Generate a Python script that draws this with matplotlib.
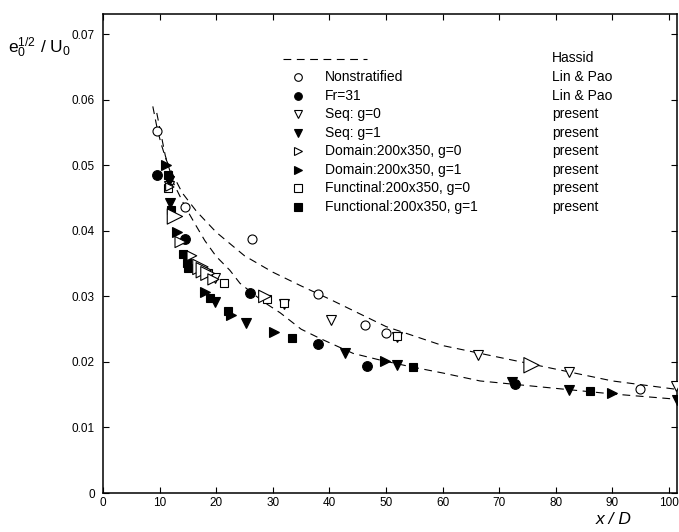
import matplotlib
matplotlib.use("Agg")
import matplotlib.pyplot as plt

plt.rcParams['font.family'] = ['Liberation Sans', 'DejaVu Sans']
plt.rcParams['mathtext.fontset'] = 'custom'
plt.rcParams['mathtext.rm'] = 'Liberation Sans'
plt.rcParams['mathtext.it'] = 'Liberation Sans:italic'
plt.rcParams['mathtext.default'] = 'regular'

# ---- data ----
hassid_upper_x = [8.8, 9.6, 10.3, 11.1, 12.1, 14, 16.5, 20, 25, 30, 35, 40, 50, 60, 70, 80, 90, 101.5]
hassid_upper_y = [0.0590, 0.0555, 0.0532, 0.0510, 0.0490, 0.0458, 0.0430, 0.0398, 0.0362, 0.0337,
                  0.0316, 0.0296, 0.0254, 0.0225, 0.0207, 0.0189, 0.0171, 0.0158]
hassid_lower_x = [9.5, 11, 12.5, 14.5, 16.5, 18, 20, 22.4, 24.2, 28.3, 31.3, 35, 38.3, 44.2, 48.9,
                  54.2, 60.1, 66.6, 78.4, 90.2, 101.5]
hassid_lower_y = [0.0580, 0.0515, 0.0472, 0.0437, 0.0407, 0.0385, 0.0361, 0.0340, 0.0320, 0.0292,
                  0.0275, 0.0250, 0.0236, 0.0213, 0.0203, 0.0193, 0.0183, 0.0171, 0.0161, 0.0151, 0.0143]

nonstrat_x = [9.6, 14.5, 26.4, 38.0, 46.3, 50.0, 94.9]
nonstrat_y = [0.0553, 0.0437, 0.0388, 0.0303, 0.0256, 0.0244, 0.0159]

fr31_x = [9.6, 14.5, 26.0, 37.9, 46.6, 72.8]
fr31_y = [0.0485, 0.0387, 0.0305, 0.0228, 0.0194, 0.0167]

seq0_x = [11.6, 19.8, 31.9, 40.3, 52.0, 66.3, 82.4, 101.2]
seq0_y = [0.0468, 0.0328, 0.0288, 0.0264, 0.0238, 0.0210, 0.0185, 0.0163]

seq1_x = [11.6, 11.8, 19.8, 25.3, 42.8, 52.0, 72.2, 82.4, 101.4]
seq1_y = [0.0476, 0.0442, 0.0291, 0.0260, 0.0213, 0.0196, 0.0170, 0.0157, 0.0142]

dom0_x = [11.8, 12.7, 13.7, 15.7, 17.2, 17.8, 18.5, 19.5, 28.6, 75.7]
dom0_y = [0.0467, 0.0422, 0.0383, 0.0362, 0.0345, 0.0340, 0.0335, 0.0326, 0.0300, 0.0195]
dom0_size = [6, 11, 8, 7, 11, 11, 10, 8, 9, 11]

dom1_x = [11.2, 13.0, 18.0, 22.7, 30.2, 49.8, 89.9]
dom1_y = [0.0500, 0.0398, 0.0306, 0.0272, 0.0246, 0.0202, 0.0152]

fun0_x = [11.5, 18.6, 21.3, 28.9, 31.9, 52.0]
fun0_y = [0.0465, 0.0335, 0.0320, 0.0296, 0.0290, 0.0240]

fun1_x = [11.4, 12.1, 14.2, 14.8, 15.1, 18.9, 22.1, 33.3, 54.7, 86.0]
fun1_y = [0.0485, 0.0432, 0.0365, 0.0351, 0.0343, 0.0297, 0.0278, 0.0237, 0.0192, 0.0155]

legend_labels = ["Nonstratified", "Fr=31", "Seq: g=0", "Seq: g=1", "Domain:200x350, g=0",
                 "Domain:200x350, g=1", "Functinal:200x350, g=0", "Functional:200x350, g=1"]
legend_sources = ["Lin & Pao", "Lin & Pao", "present", "present", "present",
                  "present", "present", "present"]

# ---- figure ----
fig = plt.figure(figsize=(6.79, 5.32), dpi=100)
ax = fig.add_axes([103/679, 39/532, 574/679, 479/532])

dash = dict(color='black', lw=0.8, dashes=(7, 5))
ax.plot(hassid_upper_x, hassid_upper_y, **dash)
ax.plot(hassid_lower_x, hassid_lower_y, **dash)

styles = [
    (nonstrat_x, nonstrat_y, 'o', 'white', 6.5),
    (fr31_x, fr31_y, 'o', 'black', 7),
    (seq0_x, seq0_y, 'v', 'white', 6.5),
    (seq1_x, seq1_y, 'v', 'black', 7),
    (dom1_x, dom1_y, '>', 'black', 7),
    (fun0_x, fun0_y, 's', 'white', 5.5),
    (fun1_x, fun1_y, 's', 'black', 5.5),
]
for xs, ys, m, fc, ms in styles:
    ax.plot(xs, ys, ls='none', marker=m, mfc=fc, mec='black', ms=ms, mew=0.8, zorder=3)
ax.scatter(dom0_x, dom0_y, s=[v**2 for v in dom0_size], marker='>', facecolors='white',
           edgecolors='black', linewidths=0.8, zorder=3)

ax.set_xlim(0, 101.4)
ax.set_ylim(0, 0.0731)
ax.set_xticks(range(0, 101, 10))
ax.set_yticks([0, 0.01, 0.02, 0.03, 0.04, 0.05, 0.06, 0.07])
ax.set_yticklabels(['0', '0.01', '0.02', '0.03', '0.04', '0.05', '0.06', '0.07'])
ax.tick_params(direction='in', top=True, right=True, length=4, width=0.8, labelsize=8.5)
ax.tick_params(axis='y', pad=6)
ax.tick_params(axis='x', pad=3)
for s in ax.spines.values():
    s.set_linewidth(1.1)

# legend (manual)
tr = ax.transAxes
row0 = (493 - 58.5) / 479
step = 18.5 / 479
ax.plot([0.3136, 0.46], [row0, row0], transform=tr, **dash)
ax.text(0.7822, row0, "Hassid", transform=tr, va='center', ha='left', fontsize=10)
leg_styles = [('o', 'white'), ('o', 'black'), ('v', 'white'), ('v', 'black'),
              ('>', 'white'), ('>', 'black'), ('s', 'white'), ('s', 'black')]
for i, ((m, fc), lab, src) in enumerate(zip(leg_styles, legend_labels, legend_sources)):
    yy = row0 - step * (i + 1)
    ax.plot([0.3397], [yy], transform=tr, marker=m, mfc=fc, mec='black', ms=5.5, mew=0.8, ls='none')
    ax.text(0.3868, yy, lab, transform=tr, va='center', ha='left', fontsize=10)
    ax.text(0.7822, yy, src, transform=tr, va='center', ha='left', fontsize=10)

fig.text(8/679, 1 - 53/532, r'$e_0^{1/2}$ / U$_0$', fontsize=12.5, ha='left', va='baseline')
fig.text(614/679, 1 - 520/532, 'x / D', fontsize=12.5, style='italic', ha='center', va='center')

fig.savefig('out.png', dpi=100)
